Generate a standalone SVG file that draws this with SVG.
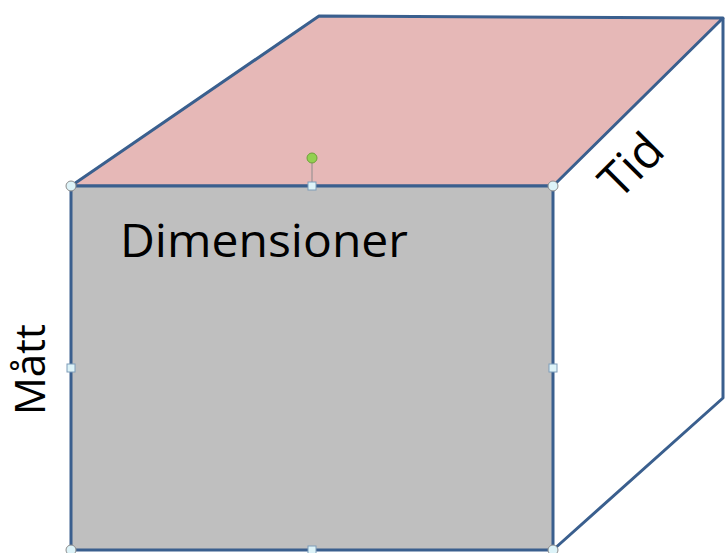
<svg xmlns="http://www.w3.org/2000/svg" width="725" height="553" viewBox="0 0 725 553">
<style>
.edge{stroke:#3A5F8E;stroke-width:3;stroke-linejoin:round;fill:none}
.lbl{font-family:"Open Sans","Noto Sans","Liberation Sans",sans-serif;fill:#000}
.hc{fill:#DDF3F8;stroke:#8C8C8C;stroke-width:1}
.hs{fill:#DDF3F8;stroke:#7F9DB9;stroke-width:1}
</style>
<rect width="725" height="553" fill="#fff"/>
<g id="top-face">
<polygon points="71,186 319,16 723,18 553,186" class="edge" style="fill:#E6B8B7"/>
</g>
<g id="right-face">
<polyline points="723,18 723,398 553,550" class="edge"/>
</g>
<g id="front-face">
<rect x="71" y="186" width="482" height="364" class="edge" style="fill:#BFBFBF"/>
<text class="lbl" x="120" y="257" font-size="46" textLength="288" lengthAdjust="spacingAndGlyphs">Dimensioner</text>
</g>
<g id="label-matt">
<text class="lbl" font-size="42" transform="translate(45,415) rotate(-90)">Mått</text>
</g>
<g id="label-tid">
<text class="lbl" font-size="48" transform="translate(619,201) rotate(-45)">Tid</text>
</g>
<g id="handles">
<line x1="312" y1="158" x2="312" y2="186" stroke="#8C8C8C" stroke-width="1"/>
<circle cx="312" cy="158" r="5" fill="#92D050" stroke="#6FA03A" stroke-width="1"/>
<circle class="hc" cx="71" cy="186" r="5"/>
<circle class="hc" cx="553" cy="186" r="5"/>
<circle class="hc" cx="71" cy="550" r="5"/>
<circle class="hc" cx="553" cy="550" r="5"/>
<rect class="hs" x="308" y="182" width="8" height="8"/>
<rect class="hs" x="308" y="546" width="8" height="8"/>
<rect class="hs" x="67" y="364" width="8" height="8"/>
<rect class="hs" x="549" y="364" width="8" height="8"/>
</g>
</svg>
